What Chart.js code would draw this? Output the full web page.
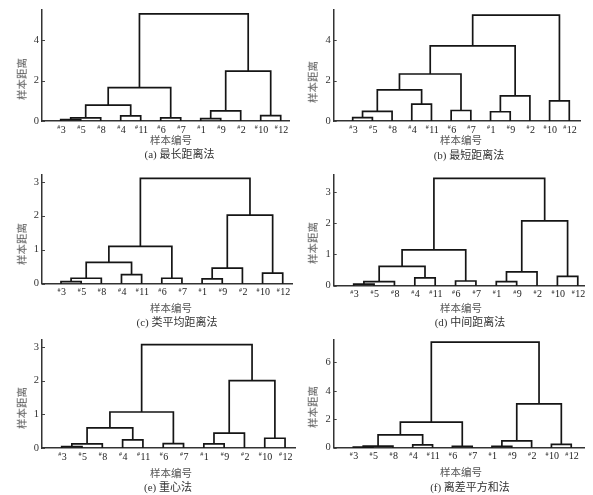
<!DOCTYPE html>
<html>
<head>
<meta charset="utf-8">
<script src="https://cdn.jsdelivr.net/npm/chart.js@4.4.1/dist/chart.umd.min.js"></script>
<style>
  html, body { margin: 0; padding: 0; background: #fff; }
  #fig { position: relative; width: 593px; height: 495px; overflow: hidden; }
  #fig canvas { position: absolute; }
  .txt {
    position: absolute; white-space: nowrap; line-height: 1;
    transform: translate(-50%, -50%);
    font-family: "Liberation Serif", "Noto Sans CJK SC", serif; color: #333;
  }
  .cn { font-family: "Noto Sans CJK SC", sans-serif; color: #555; font-size: 10.5px; }
  .cap { font-size: 11px; color: #333; }
  .ytitle { transform: translate(-50%, -50%) rotate(-90deg); }
</style>
</head>
<body>
<div id="fig"></div>
<script>
// ── Data ──────────────────────────────────────────────────────────────────────
const leafLabels = ['3', '5', '8', '4', '11', '6', '7', '1', '9', '2', '10', '12'];

// merges: pairs of node ids (0-11 leaves, 12+ merged clusters in order)
const linksA = [[0, 1], [12, 2], [3, 4], [13, 14], [5, 6], [15, 16], [7, 8], [18, 9], [10, 11], [19, 20], [17, 21]];
const linksB = [[0, 1], [12, 2], [3, 4], [13, 14], [5, 6], [15, 16], [7, 8], [18, 9], [17, 19], [10, 11], [20, 21]];

const heightsA = [0.07, 0.15, 0.25, 0.78, 0.15, 1.65, 0.12, 0.50, 0.27, 2.46, 5.29];
const heightsB = [0.17, 0.48, 0.84, 1.54, 0.52, 2.33, 0.46, 1.25, 3.73, 1.00, 5.25];
const heightsC = [0.06, 0.16, 0.27, 0.63, 0.16, 1.10, 0.14, 0.46, 0.31, 2.02, 3.10];
const heightsD = [0.05, 0.13, 0.25, 0.62, 0.15, 1.15, 0.13, 0.44, 0.30, 2.08, 3.44];
const heightsE = [0.04, 0.12, 0.24, 0.60, 0.13, 1.07, 0.12, 0.44, 0.29, 2.00, 3.07];
const heightsF = [0.04, 0.11, 0.20, 0.90, 0.09, 1.80, 0.09, 0.48, 0.24, 3.08, 7.43];

const yTicksAB  = [0, 2, 4];
const yTicksCDE = [0, 1, 2, 3];
const yTicksF   = [0, 2, 4, 6];

const xTitle = '样本编号';
const yTitle = '样本距离';
const captions = ['(a) 最长距离法', '(b) 最短距离法', '(c) 类平均距离法', '(d) 中间距离法', '(e) 重心法', '(f) 离差平方和法'];

// ── Layout (pixel boxes of each panel) ───────────────────────────────────────
// area: [left, top, right, bottom] of plot inside panel canvas
const panels = [
  { links: linksA, heights: heightsA, ticks: yTicksAB,  left: 0,   top: 0,   w: 296, h: 165, area: [42, 5, 289.3, 121],      x: [0.065, 12.43], yMax: 5.52,
    xt: [171, 140], cap: [179.5, 154], yt: [22, 79] },
  { links: linksB, heights: heightsB, ticks: yTicksAB,  left: 296, top: 0,   w: 297, h: 165, area: [37.7, 4.7, 284.7, 121],   x: [0.035, 12.58], yMax: 5.54,
    xt: [461, 140], cap: [469, 154.5], yt: [313, 82] },
  { links: linksA, heights: heightsC, ticks: yTicksCDE, left: 0,   top: 165, w: 296, h: 165, area: [42, 2.3, 292, 118.7],     x: [0.057, 12.46], yMax: 3.22,
    xt: [171, 307.5], cap: [177, 322], yt: [22, 244] },
  { links: linksA, heights: heightsD, ticks: yTicksCDE, left: 296, top: 165, w: 297, h: 165, area: [37.7, 3, 288.7, 120.7],   x: [0.018, 12.34], yMax: 3.57,
    xt: [461, 307.5], cap: [470, 322], yt: [313, 242.5] },
  { links: linksA, heights: heightsE, ticks: yTicksCDE, left: 0,   top: 330, w: 296, h: 165, area: [42, 1.7, 295, 118],       x: [0.03, 12.49], yMax: 3.23,
    xt: [171, 472.5], cap: [168, 487], yt: [22, 407.5] },
  { links: linksA, heights: heightsF, ticks: yTicksF,   left: 296, top: 330, w: 297, h: 165, area: [37.7, 2, 288.7, 117.7],   x: [0.01, 12.68], yMax: 7.63,
    xt: [461, 472], cap: [470, 487], yt: [313, 406.5] },
];

// ── Helpers ───────────────────────────────────────────────────────────────────
const fig = document.getElementById('fig');

function addText(str, cls, pos) {
  const d = document.createElement('div');
  d.className = 'txt ' + cls;
  d.textContent = str;
  d.style.left = pos[0] + 'px';
  d.style.top = pos[1] + 'px';
  fig.appendChild(d);
}

function buildSegments(links, heights) {
  const pos = leafLabels.map((_, i) => i + 1);
  const hgt = leafLabels.map(() => 0);
  const sets = [];
  links.forEach(([a, b], k) => {
    const h = heights[k];
    sets.push({
      data: [{ x: pos[a], y: hgt[a] }, { x: pos[a], y: h }, { x: pos[b], y: h }, { x: pos[b], y: hgt[b] }],
      borderColor: '#151515', borderWidth: 1.7, pointRadius: 0, tension: 0, fill: false,
      borderJoinStyle: 'miter', clip: false,
    });
    pos.push((pos[a] + pos[b]) / 2);
    hgt.push(h);
  });
  return sets;
}

// leaf labels with a small raised "#" and short inward y ticks
const leafLabelPlugin = {
  id: 'leafLabels',
  afterDraw(chart) {
    const { ctx, scales: { x, y } } = chart;
    ctx.save();
    ctx.fillStyle = '#222';
    ctx.textBaseline = 'alphabetic';
    leafLabels.forEach((lab, i) => {
      const px = x.getPixelForValue(i + 1);
      ctx.font = '10px "Liberation Serif"';
      const wN = ctx.measureText(lab).width;
      ctx.font = '6px "Liberation Serif"';
      const wH = ctx.measureText('#').width;
      const x0 = px - (wN + wH) / 2 + 0.5;
      const base = y.bottom + 11.5;
      ctx.fillText('#', x0, base - 3.5);
      ctx.font = '10px "Liberation Serif"';
      ctx.fillText(lab, x0 + wH + 0.5, base);
    });
    ctx.strokeStyle = '#444';
    ctx.lineWidth = 1;
    y.ticks.forEach(t => {
      const py = Math.round(y.getPixelForValue(t.value)) + 0.5;
      ctx.beginPath();
      ctx.moveTo(x.left, py);
      ctx.lineTo(x.left + 3, py);
      ctx.stroke();
    });
    ctx.restore();
  }
};

// ── Render ────────────────────────────────────────────────────────────────────
panels.forEach((p, i) => {
  const cv = document.createElement('canvas');
  cv.width = p.w;
  cv.height = p.h;
  cv.style.left = p.left + 'px';
  cv.style.top = p.top + 'px';
  cv.style.width = p.w + 'px';
  cv.style.height = p.h + 'px';
  fig.appendChild(cv);

  const [aL, aT, aR, aB] = p.area;
  new Chart(cv.getContext('2d'), {
    type: 'line',
    data: { datasets: buildSegments(p.links, p.heights) },
    options: {
      responsive: false,
      animation: false,
      events: [],
      layout: { padding: { left: 0, top: aT, right: p.w - aR, bottom: 0 } },
      plugins: { legend: { display: false }, tooltip: { enabled: false } },
      scales: {
        x: {
          type: 'linear', min: p.x[0], max: p.x[1],
          grid: { display: false, drawTicks: false },
          border: { display: true, color: '#333', width: 1.5 },
          ticks: { display: false },
          afterFit: s => { s.height = p.h - aB; }
        },
        y: {
          type: 'linear', min: 0, max: p.yMax,
          grid: { display: false, drawTicks: false },
          border: { display: true, color: '#333', width: 1.5 },
          afterBuildTicks: s => { s.ticks = p.ticks.map(v => ({ value: v })); },
          ticks: { color: '#333', padding: 3, font: { family: 'Liberation Serif', size: 10.5 } },
          afterFit: s => { s.width = aL; }
        }
      }
    },
    plugins: [leafLabelPlugin]
  });

  addText(xTitle, 'cn', p.xt);
  addText(captions[i], 'cap', p.cap);
  addText(yTitle, 'cn ytitle', p.yt);
});
</script>
</body>
</html>
